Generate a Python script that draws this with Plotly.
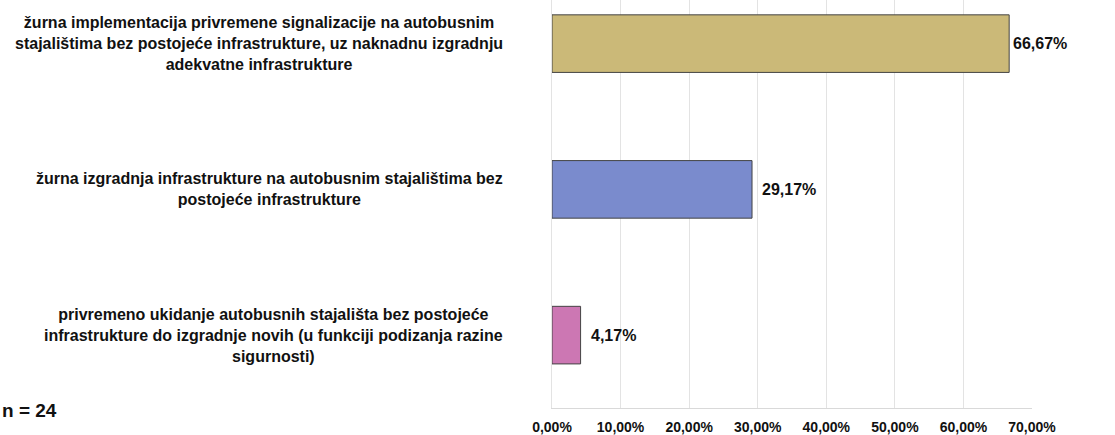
import plotly.graph_objects as go

categories = [
    "žurna implementacija privremene signalizacije na autobusnim<br>stajalištima bez postojeće infrastrukture, uz naknadnu izgradnju<br>adekvatne infrastrukture",
    "žurna izgradnja infrastrukture na autobusnim stajalištima bez<br>postojeće infrastrukture",
    "privremeno ukidanje autobusnih stajališta bez postojeće<br>infrastrukture do izgradnje novih (u funkciji podizanja razine<br>sigurnosti)",
]
values = [66.67, 29.17, 4.17]
colors = ["#CBB978", "#7A8BCD", "#CC77B3"]
tick_vals = [0, 10, 20, 30, 40, 50, 60, 70]
tick_text = ["0,00%", "10,00%", "20,00%", "30,00%", "40,00%", "50,00%", "60,00%", "70,00%"]
note = "n = 24"

ypos = list(range(len(categories)))

fig = go.Figure()
fig.add_trace(go.Bar(
    x=values, y=ypos, orientation="h",
    marker=dict(color=colors, line=dict(color="#444444", width=1)),
    width=0.395,
    hoverinfo="x",
))

FONT = "Liberation Sans, Arial, sans-serif"
ann = []
for i, c in enumerate(categories):
    ann.append(dict(
        text="<b>" + c + "</b>", x=-0.098, xref="paper", y=ypos[i], yref="y",
        xanchor="right", yanchor="middle", align="center", showarrow=False,
        font=dict(family=FONT, size=16, color="#111111"),
    ))
shifts = [2, 8, 8]
for i, v in enumerate(values):
    ann.append(dict(
        text="<b>" + f"{v:.2f}".replace(".", ",") + "%</b>", x=v, xref="x", y=ypos[i], yref="y",
        xanchor="left", yanchor="middle", showarrow=False, xshift=shifts[i],
        font=dict(family=FONT, size=16, color="#111111"),
    ))
ann.append(dict(
    text="<b>" + note + "</b>", x=-552/480, xref="paper", y=(411 - 414) / 411, yref="paper",
    xanchor="left", yanchor="middle", showarrow=False,
    font=dict(family=FONT, size=19, color="#111111"),
))

fig.update_layout(
    width=1115, height=435,
    margin=dict(l=552, r=83, t=0, b=24),
    plot_bgcolor="white", paper_bgcolor="white",
    separators=", ",
    showlegend=False,
    annotations=ann,
    font=dict(family=FONT, color="#111111"),
    xaxis=dict(
        range=[0, 70], tickmode="array", tickvals=tick_vals, ticktext=tick_text,
        showgrid=True, gridcolor="#e3e3e3", gridwidth=1,
        showline=True, linecolor="#d9d9d9", zeroline=False,
        tickfont=dict(family=FONT, size=14, color="#111111", weight="bold"),
        ticks="", ticklabelstandoff=6,
    ),
    yaxis=dict(
        range=[2.5, -0.2993], showticklabels=False, showgrid=False,
        zeroline=False, showline=True, linecolor="#e3e3e3", ticks="",
    ),
)

fig.write_html("out.html", config={"displayModeBar": False},
               post_script="document.body.style.margin='0';document.body.style.overflow='hidden';")
